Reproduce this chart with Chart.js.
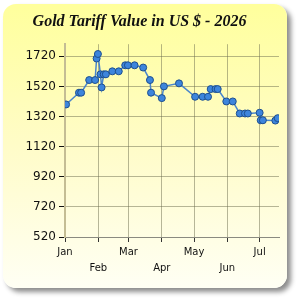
<!DOCTYPE html>
<html>
<head>
<meta charset="utf-8">
<script src="https://cdn.jsdelivr.net/npm/chart.js@4"></script>
<style>
  html, body { margin: 0; padding: 0; background: #fff; }
  #wrap { position: relative; width: 300px; height: 300px; }
  .card {
    position: absolute; left: 3px; top: 4px; width: 284px; height: 284px;
    border-radius: 13px;
    background: linear-gradient(to bottom, #ffff9c 0%, #fffcc8 50%, #fffff4 100%);
    box-shadow: 4px 4px 5px rgba(0,0,0,0.45);
  }
  canvas { position: absolute; left: 0; top: 0; }
</style>
</head>
<body>
<div id="wrap">
  <div class="card"></div>
  <canvas id="goldChart" width="300" height="300"></canvas>
</div>
<script>
// day of year (Jan 1 = 0) and tariff value in US $
const days = [1, 13, 15, 22.5, 28, 29.4, 30.6, 33, 34, 36, 38, 44, 50, 56, 58.5, 64.7,
  72.7, 79, 80, 90, 92, 106, 121, 128, 133, 135.5, 140, 142, 150, 156, 162.5, 167.4,
  170, 181, 182, 184, 195.6, 197.8];
const values = [1400, 1478, 1478, 1562, 1562, 1705, 1735, 1600, 1513, 1600, 1600, 1620,
  1620, 1660, 1660, 1660, 1645, 1562, 1478, 1442, 1520, 1540, 1451, 1451, 1451, 1502,
  1502, 1502, 1420, 1420, 1340, 1340, 1340, 1345, 1295, 1295, 1293, 1309];

const monthNames = ["Jan", "Feb", "Mar", "Apr", "May", "Jun", "Jul"];
const monthStarts = [0, 31, 59, 90, 120, 151, 181];
const yTicks = [520, 720, 920, 1120, 1320, 1520, 1720];

const points = days.map((d, i) => ({ x: d, y: values[i] }));

const ctx = document.getElementById("goldChart").getContext("2d");
new Chart(ctx, {
  type: "line",
  data: {
    datasets: [
      {
        label: "Gold",
        data: points,
        borderColor: "#4a86cc",
        borderWidth: 1.5,
        pointBackgroundColor: "#3d85dc",
        pointBorderColor: "#1d4f8f",
        pointBorderWidth: 1,
        pointRadius: 3.5,
        tension: 0,
      },
    ],
  },
  options: {
    responsive: false,
    animation: false,
    layout: { padding: { left: 0, right: 21, top: 0, bottom: 0 } },
    plugins: {
      legend: { display: false },
      tooltip: { enabled: false },
      title: {
        display: true,
        text: "Gold Tariff Value in US $ - 2026",
        color: "#111",
        font: { family: "Liberation Serif", size: 16, style: "italic", weight: "bold" },
        padding: { top: 12, bottom: 13 },
      },
    },
    scales: {
      x: {
        type: "linear",
        min: 0,
        max: 199,
        afterBuildTicks: (s) => {
          s.ticks = monthStarts.map((v) => ({ value: v }));
        },
        afterFit: (s) => {
          s.height = 63;
        },
        ticks: {
          color: "#111",
          font: { family: "DejaVu Sans", size: 10, lineHeight: 1.6 },
          padding: 2,
          maxRotation: 0,
          autoSkip: false,
          callback: (v, i) => (i % 2 === 0 ? [monthNames[i]] : ["", monthNames[i]]),
        },
        grid: {
          color: "rgba(110,110,80,0.5)",
          tickColor: "#333",
          tickLength: 5,
        },
        border: { color: "#8a8a80", width: 1 },
      },
      y: {
        min: 520,
        max: 1800,
        afterBuildTicks: (s) => {
          s.ticks = yTicks.map((v) => ({ value: v }));
        },
        afterFit: (s) => {
          s.width = 65;
        },
        ticks: {
          color: "#111",
          font: { family: "DejaVu Sans", size: 12 },
          padding: 3,
          callback: (v) => String(v),
        },
        grid: {
          color: "rgba(110,110,80,0.5)",
          tickColor: "#111",
          tickLength: 6,
        },
        border: { color: "#c4bd94", width: 2 },
      },
    },
  },
});
</script>
</body>
</html>
